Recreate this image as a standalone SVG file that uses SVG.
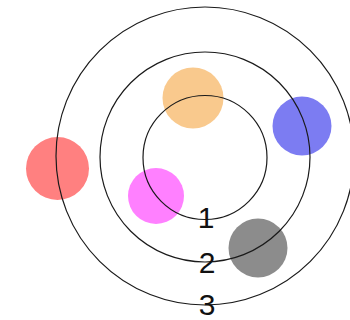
<svg xmlns="http://www.w3.org/2000/svg" width="350" height="320" viewBox="0 0 350 320">
<style>
.ring{fill:none;stroke:#1a1a1a;stroke-width:1.2}
.lbl{font-family:"Liberation Sans",Arial,sans-serif;font-size:30px;fill:#111;text-anchor:middle}
</style>
<rect width="350" height="320" fill="#ffffff"/>
<g id="dots">
<circle id="orange" cx="193" cy="98" r="30.5" fill="#F9C98D"/>
<circle id="blue" cx="302" cy="126" r="29.5" fill="#7C7CF2"/>
<circle id="red" cx="57.5" cy="168.5" r="31.5" fill="#FF8080"/>
<circle id="pink" cx="156" cy="196" r="28" fill="#FF80FF"/>
<circle id="gray" cx="258" cy="248" r="29.5" fill="#8C8C8C"/>
</g>
<g id="rings">
<circle class="ring" cx="205" cy="156" r="149"/>
<circle class="ring" cx="205" cy="157" r="105"/>
<circle class="ring" cx="205" cy="157.5" r="62"/>
</g>
<g id="labels">
<text class="lbl" x="206" y="228">1</text>
<text class="lbl" x="207" y="273">2</text>
<text class="lbl" x="207" y="315">3</text>
</g>
</svg>
